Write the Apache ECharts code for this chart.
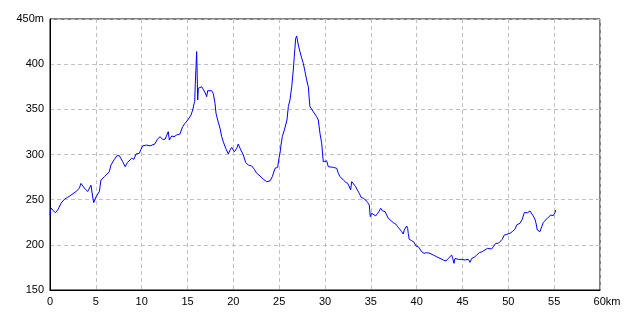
<!DOCTYPE html>
<html>
<head>
<meta charset="utf-8">
<script src="https://cdn.jsdelivr.net/npm/echarts@6/dist/echarts.min.js"></script>
<style>html,body{margin:0;padding:0;background:#fff}#c{width:640px;height:320px}</style>
</head>
<body>
<div id="c"></div>
<script>
var dist = [0,0.1,0.19,0.36,0.58,0.84,1.2,1.56,1.93,2.29,2.84,3.2,3.38,3.74,4.11,4.29,4.47,4.66,4.77,5.02,5.38,5.56,5.93,6.47,6.65,7.02,7.31,7.56,7.93,8.2,8.43,8.91,9.16,9.38,9.74,9.89,10.1,10.55,10.91,11.45,11.71,12.0,12.29,12.55,12.9,13.02,13.28,13.53,13.82,14.18,14.47,14.73,15.09,15.38,15.57,15.71,15.79,15.85,15.93,16.0,16.07,16.11,16.18,16.36,16.55,16.72,16.99,17.09,17.2,17.64,17.81,18.0,18.11,18.29,18.55,18.73,18.91,19.17,19.45,19.64,19.82,20.11,20.37,20.54,20.73,20.91,21.09,21.35,21.63,22.0,22.29,22.55,22.91,23.27,23.64,24.0,24.25,24.55,24.84,24.98,25.09,25.2,25.34,25.56,25.71,25.85,26.0,26.18,26.37,26.54,26.65,26.8,26.91,27.09,27.27,27.46,27.63,27.82,28.0,28.18,28.29,28.36,28.55,28.72,28.91,29.09,29.27,29.45,29.64,29.81,30.0,30.18,30.36,30.55,30.91,31.28,31.45,31.64,31.82,32.0,32.26,32.48,32.65,32.8,32.91,33.09,33.35,33.52,33.74,33.93,34.18,34.44,34.66,34.83,34.94,35.09,35.27,35.53,35.75,35.92,36.08,36.25,36.55,36.73,36.9,37.2,37.45,37.71,37.93,38.37,38.47,38.54,38.65,38.73,38.91,39.02,39.08,39.19,39.46,39.71,39.93,40.18,40.36,40.55,40.8,41.09,41.45,41.81,42.19,42.55,42.91,43.2,43.45,43.82,43.93,44.07,44.18,44.37,44.54,44.91,45.27,45.46,45.64,45.82,46.01,46.26,46.55,46.83,47.16,47.45,47.71,47.89,48.18,48.36,48.62,48.9,49.09,49.34,49.56,49.82,50.18,50.43,50.73,50.91,51.27,51.52,51.74,51.93,52.11,52.36,52.55,52.72,52.91,53.02,53.16,53.27,53.45,53.64,53.81,54.07,54.36,54.65,54.9,55.09,55.16];
var elev = [233,241,241.5,237.8,235.5,238.5,246,250.4,252.6,255,259,262.6,268,263,259,257,266,253,246.7,253,259,271.8,275.4,281,288.4,294.6,298.7,298.7,292,286.5,291,295.8,294.7,300.5,301.3,305,309.5,310.5,309.5,311.7,316.8,319.7,316.8,316.8,325.3,316,320.5,319.7,321.6,322.7,330.8,334.5,339,343.7,349.3,356,358.5,378.8,397,414,382.5,360.3,373.3,373.3,375,372,367,364,370.6,370.6,367.7,356.7,345.6,338.2,329,319.7,314,306.9,300.6,305,307.9,303,306.9,311.6,306.9,305,299.5,291,288.4,287.3,283.7,279.2,276.2,272.6,270,270.7,275.4,284.7,285.8,295.8,301.3,310.5,319.7,327,332.7,338.2,353,360.3,375,393.5,408.3,428.6,431.2,421.2,413.8,406.5,401,391.7,382.5,375,360.3,353,351.1,347.4,345.6,341.9,338.2,323.5,312.4,292,294,293,286.5,288.4,285.8,284.7,279.2,275.5,273.6,271.8,269.3,268.1,266.2,260.8,270,268.1,264.4,260.8,257,252.6,251.5,249.6,246.7,244.1,231.2,235,235,232,235,237.5,240.5,237.8,236.8,235,229.4,226.8,224.6,223.1,220.1,214.6,216.4,212,216.4,214.6,220.8,218.2,212.8,206.1,204.6,202.8,198.7,197.9,196.1,192.4,190.6,191.3,190.6,188.7,186.8,185,183.2,182.1,185,188.7,185,179.5,185,186.8,183.9,183.9,183.2,185,183.9,180.6,185,186.1,188.7,191.3,192.4,194.3,196.1,195,195.4,197.9,201.6,201.6,203.5,206.1,210.9,211.6,212.8,214.6,217.3,222,223.9,228.3,235.6,234.1,235.6,237.5,235.6,231.9,228.3,223.9,216.4,214.6,214.6,220.1,224.6,227.5,230.5,233,232.3,235.6,238.5];
var xTicks = [0,5,10,15,20,25,30,35,40,45,50,55,60];
var yTicks = [150,200,250,300,350,400,450];
var xUnit = 'km';
var yUnit = 'm';

var pts = dist.map(function(d,i){return [d, elev[i]];});
var font = 'Liberation Sans';
var chart = echarts.init(document.getElementById('c'));
chart.setOption({
  animation: false,
  backgroundColor: '#fff',
  grid: {left: 50, right: 40, top: 19, bottom: 30, show: true, borderColor: '#000', borderWidth: 1, backgroundColor: 'transparent'},
  xAxis: {
    type: 'value', min: xTicks[0], max: xTicks[xTicks.length-1], interval: 5,
    axisLine: {show: true, lineStyle: {color: '#000', width: 1}},
    axisTick: {show: false},
    splitLine: {show: true, lineStyle: {color: '#c0c0c0', type: [4,3], width: 1}},
    axisLabel: {
      margin: 6, color: '#000', fontFamily: font, fontSize: 11,
      formatter: function(v){ return v === xTicks[xTicks.length-1] ? '{a|' + v + '}' + xUnit : String(v); },
      rich: {a: {padding: [0,0,0,14], fontFamily: font, fontSize: 11, color: '#000'}}
    }
  },
  yAxis: {
    type: 'value', min: yTicks[0], max: yTicks[yTicks.length-1], interval: 50,
    axisLine: {show: true, lineStyle: {color: '#000', width: 1}},
    axisTick: {show: false},
    splitLine: {show: true, lineStyle: {color: '#c0c0c0', type: [4,3], width: 1}},
    axisLabel: {
      margin: 6, color: '#000', fontFamily: font, fontSize: 11,
      formatter: function(v){ return v === yTicks[yTicks.length-1] ? v + yUnit : String(v); }
    }
  },
  series: [{
    type: 'line', data: pts, showSymbol: false, symbol: 'none',
    lineStyle: {color: '#0000ff', width: 1}, silent: true
  }]
});
</script>
</body>
</html>
